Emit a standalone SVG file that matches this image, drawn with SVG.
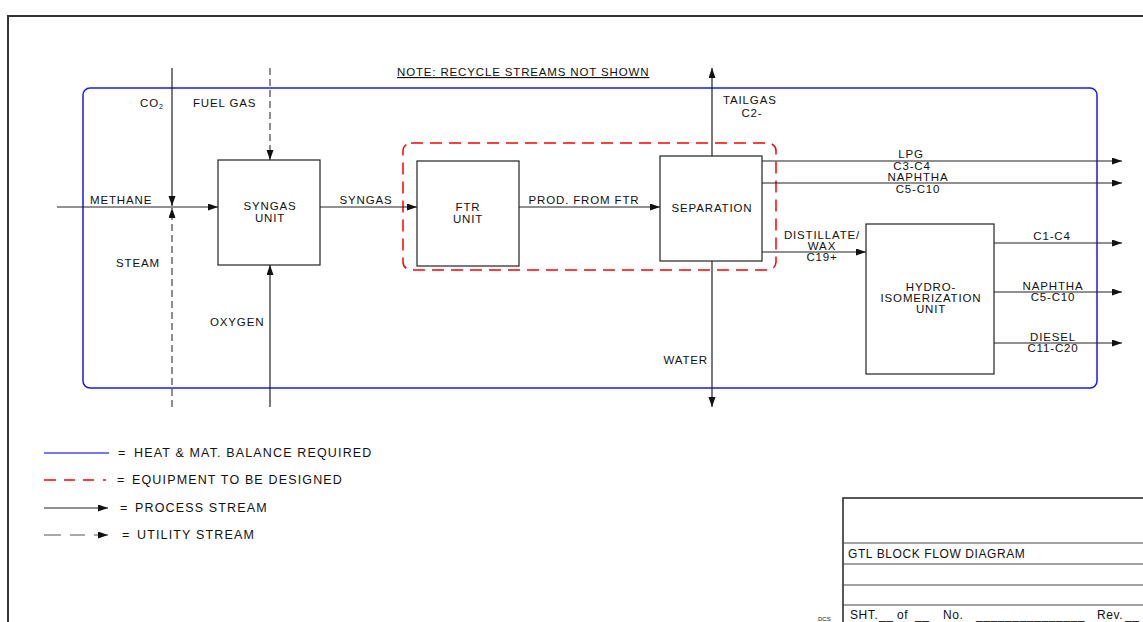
<svg xmlns="http://www.w3.org/2000/svg" width="1143" height="622" viewBox="0 0 1143 622">
<style>
text{font-family:"Liberation Sans",Arial,sans-serif;font-size:11.5px;fill:#111;letter-spacing:0.85px}
.c{text-anchor:middle}
.e{text-anchor:end}
.lg{font-size:12.5px;letter-spacing:1.15px}
.tb{font-size:12px;letter-spacing:0.6px}
.box{fill:#fff;stroke:#222;stroke-width:1.2}
.pr{fill:none;stroke:#222;stroke-width:1.2}
.ut{fill:none;stroke:#444;stroke-width:1.2;stroke-dasharray:7,4}
</style>
<defs>
<marker id="ah" markerUnits="userSpaceOnUse" markerWidth="11" markerHeight="8" refX="10" refY="3.5" orient="auto">
<path d="M0,0 L10,3.5 L0,7 z" fill="#111"/>
</marker>
</defs>
<rect width="1143" height="622" fill="#fff"/>
<rect id="frame" x="8" y="16" width="1150" height="620" fill="none" stroke="#333" stroke-width="2"/>
<rect id="hmb-boundary" x="83" y="88" width="1014" height="300" rx="7" fill="none" stroke="#1a1aee" stroke-width="1.5"/>
<rect id="design-boundary" x="403" y="143" width="373" height="127" rx="8" fill="none" stroke="#f00" stroke-width="1.5" stroke-dasharray="12,7"/>
<text x="397" y="76" style="text-decoration:underline">NOTE: RECYCLE STREAMS NOT SHOWN</text>
<g id="connectors">
<line class="pr" x1="172" y1="68" x2="172" y2="206" marker-end="url(#ah)"/>
<line class="ut" x1="270" y1="68" x2="270" y2="160" marker-end="url(#ah)"/>
<line class="pr" x1="57" y1="207" x2="218" y2="207" marker-end="url(#ah)"/>
<line class="ut" x1="172" y1="407" x2="172" y2="208" marker-end="url(#ah)"/>
<line class="pr" x1="270" y1="407" x2="270" y2="265" marker-end="url(#ah)"/>
<line class="pr" x1="320" y1="207" x2="417" y2="207" marker-end="url(#ah)"/>
<line class="pr" x1="519" y1="207" x2="660" y2="207" marker-end="url(#ah)"/>
<line class="pr" x1="712" y1="156" x2="712" y2="68" marker-end="url(#ah)"/>
<line class="pr" x1="712" y1="261" x2="712" y2="407" marker-end="url(#ah)"/>
<line class="pr" x1="762" y1="161" x2="1122" y2="161" marker-end="url(#ah)"/>
<line class="pr" x1="762" y1="183" x2="1122" y2="183" marker-end="url(#ah)"/>
<line class="pr" x1="762" y1="252" x2="866" y2="252" marker-end="url(#ah)"/>
<line class="pr" x1="994" y1="243" x2="1122" y2="243" marker-end="url(#ah)"/>
<line class="pr" x1="994" y1="292" x2="1122" y2="292" marker-end="url(#ah)"/>
<line class="pr" x1="994" y1="343" x2="1122" y2="343" marker-end="url(#ah)"/>
</g>
<g id="stream-labels">
<text x="140" y="107">CO<tspan font-size="7" dy="2">2</tspan></text>
<text x="193" y="107">FUEL GAS</text>
<text x="90" y="204">METHANE</text>
<text x="116" y="267">STEAM</text>
<text x="210" y="326">OXYGEN</text>
<text class="c" x="366" y="204">SYNGAS</text>
<text class="c" x="584" y="204">PROD. FROM FTR</text>
<text x="723" y="104">TAILGAS</text>
<text class="c" x="752" y="117">C2-</text>
<text class="e" x="708" y="364">WATER</text>
<text class="c" x="911" y="158">LPG</text>
<text class="c" x="912" y="170">C3-C4</text>
<text class="c" x="918" y="181">NAPHTHA</text>
<text class="c" x="918" y="193">C5-C10</text>
<text class="c" x="822" y="239">DISTILLATE/</text>
<text class="c" x="822" y="250">WAX</text>
<text class="c" x="822" y="261">C19+</text>
<text class="c" x="1052" y="240">C1-C4</text>
<text class="c" x="1053" y="290">NAPHTHA</text>
<text class="c" x="1053" y="301">C5-C10</text>
<text class="c" x="1053" y="341">DIESEL</text>
<text class="c" x="1053" y="352">C11-C20</text>
</g>
<g id="syngas-unit">
<rect class="box" x="218" y="160" width="102" height="105"/>
<text class="c" x="270" y="210">SYNGAS</text>
<text class="c" x="270" y="222">UNIT</text>
</g>
<g id="ftr-unit">
<rect class="box" x="417" y="161" width="102" height="105"/>
<text class="c" x="468" y="211">FTR</text>
<text class="c" x="468" y="223">UNIT</text>
</g>
<g id="separation">
<rect class="box" x="660" y="156" width="102" height="105"/>
<text class="c" x="712" y="212">SEPARATION</text>
</g>
<g id="hydro-unit">
<rect class="box" x="866" y="224" width="128" height="150"/>
<text class="c" x="931" y="291">HYDRO-</text>
<text class="c" x="931" y="302">ISOMERIZATION</text>
<text class="c" x="931" y="313">UNIT</text>
</g>
<g id="legend">
<line x1="44" y1="453" x2="109" y2="453" stroke="#4a4aee" stroke-width="1.5"/>
<text class="lg" x="118" y="457">=</text>
<text class="lg" x="134" y="457">HEAT &amp; MAT. BALANCE REQUIRED</text>
<line x1="44" y1="480" x2="107" y2="480" stroke="#f00" stroke-width="1.5" stroke-dasharray="12,8,11,8,11,9,3,9"/>
<text class="lg" x="117" y="484">=</text>
<text class="lg" x="132" y="484">EQUIPMENT TO BE DESIGNED</text>
<line x1="44" y1="508" x2="108" y2="508" stroke="#222" stroke-width="1.2" marker-end="url(#ah)"/>
<text class="lg" x="120" y="512">=</text>
<text class="lg" x="135" y="512">PROCESS STREAM</text>
<line x1="44" y1="535" x2="108" y2="535" stroke="#555" stroke-width="1.2" stroke-dasharray="17,9,15,9" marker-end="url(#ah)"/>
<text class="lg" x="122" y="539">=</text>
<text class="lg" x="137" y="539">UTILITY STREAM</text>
</g>
<g id="title-block">
<rect x="843" y="498" width="310" height="130" fill="none" stroke="#222" stroke-width="1.5"/>
<line x1="843" y1="543" x2="1143" y2="543" stroke="#444" stroke-width="1"/>
<line x1="843" y1="564" x2="1143" y2="564" stroke="#444" stroke-width="1"/>
<line x1="843" y1="585" x2="1143" y2="585" stroke="#444" stroke-width="1"/>
<line x1="843" y1="605" x2="1143" y2="605" stroke="#444" stroke-width="1"/>
<text class="tb" x="848" y="558">GTL BLOCK FLOW DIAGRAM</text>
<text class="tb" y="619"><tspan x="850">SHT.</tspan><tspan x="879">__</tspan><tspan x="897">of</tspan><tspan x="915">__</tspan><tspan x="943">No.</tspan><tspan x="976">_______________</tspan><tspan x="1097">Rev.</tspan><tspan x="1125">__</tspan></text>
<text x="818" y="621" style="font-size:6px;letter-spacing:0">DCS</text>
</g>
</svg>
